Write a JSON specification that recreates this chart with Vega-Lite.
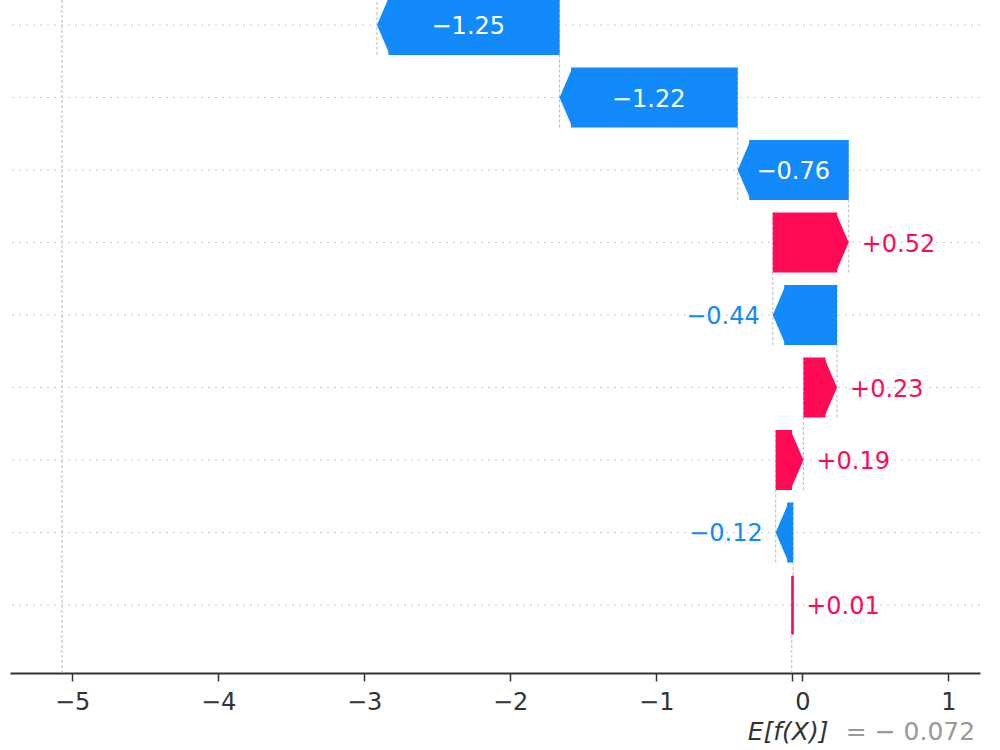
{
  "$schema": "https://vega.github.io/schema/vega-lite/v6.json",
  "width": 970,
  "height": 673,
  "autosize": {"type": "none"},
  "padding": {"left": 10, "top": 0, "right": 20, "bottom": 77},
  "background": "white",
  "config": {
    "view": {"stroke": null},
    "font": "DejaVu Sans",
    "axisX": {
      "title": null, "grid": false,
      "domainColor": "#333333", "domainWidth": 1.8, "tickColor": "#333333", "tickWidth": 1.5, "tickSize": 8,
      "labelFontSize": 24, "labelColor": "#333333", "labelFont": "DejaVu Sans", "labelPadding": 9
    }
  },
  "data": {
    "values": [
      {"rank": 9, "value": -1.25, "start": -1.662, "end": -2.912},
      {"rank": 8, "value": -1.22, "start": -0.442, "end": -1.662},
      {"rank": 7, "value": -0.76, "start": 0.318, "end": -0.442},
      {"rank": 6, "value": 0.52, "start": -0.202, "end": 0.318},
      {"rank": 5, "value": -0.44, "start": 0.238, "end": -0.202},
      {"rank": 4, "value": 0.23, "start": 0.008, "end": 0.238},
      {"rank": 3, "value": 0.19, "start": -0.182, "end": 0.008},
      {"rank": 2, "value": -0.12, "start": -0.062, "end": -0.182},
      {"rank": 1, "value": 0.01, "start": -0.072, "end": -0.062}
    ]
  },
  "layer": [
    {
      "mark": {"type": "rule", "color": "#cccccc", "strokeWidth": 1, "strokeDash": [2, 5]},
      "encoding": {
        "y": {"field": "rank", "type": "quantitative", "scale": {"domain": [0.062, 9.345], "nice": false, "zero": false}, "axis": null}
      }
    },
    {
      "data": {"values": [{}]},
      "mark": {"type": "rule", "color": "#bbbbbb", "strokeWidth": 1, "strokeDash": [3, 2]},
      "encoding": {
        "x": {"datum": -5.069, "type": "quantitative", "scale": {"domain": [-5.425, 1.217], "nice": false, "zero": false},
          "axis": {"values": [-5, -4, -3, -2, -1, 0, 1, -0.072], "labelExpr": "datum.value == -0.072 ? '' : datum.label", "title": null}}
      }
    },
    {
      "data": {"values": [{}]},
      "mark": {"type": "rule", "color": "#bbbbbb", "strokeWidth": 1, "strokeDash": [3, 2]},
      "encoding": {
        "x": {"datum": -0.072, "type": "quantitative", "scale": {"domain": [-5.425, 1.217], "nice": false, "zero": false},
          "axis": {"values": [-5, -4, -3, -2, -1, 0, 1, -0.072], "labelExpr": "datum.value == -0.072 ? '' : datum.label", "title": null}},
        "y": {"datum": 1, "type": "quantitative", "scale": {"domain": [0.062, 9.345], "nice": false, "zero": false}, "axis": null},
        "y2": {"datum": 0.062}
      }
    },
    {
      "mark": {"type": "rule", "color": "#bbbbbb", "strokeWidth": 1, "strokeDash": [3, 2], "yOffset": 30, "y2Offset": -102.5, "clip": true},
      "encoding": {
        "x": {"field": "end", "type": "quantitative", "scale": {"domain": [-5.425, 1.217], "nice": false, "zero": false},
          "axis": {"values": [-5, -4, -3, -2, -1, 0, 1, -0.072], "labelExpr": "datum.value == -0.072 ? '' : datum.label", "title": null}},
        "y": {"field": "rank", "type": "quantitative", "scale": {"domain": [0.062, 9.345], "nice": false, "zero": false}, "axis": null},
        "y2": {"field": "rank"}
      }
    },
    {
      "transform": [{"filter": "datum.value > 0.085"}],
      "mark": {"type": "rect", "color": "#FF0B55", "x2Offset": -11.5, "yOffset": -30, "y2Offset": 30},
      "encoding": {
        "x": {"field": "start", "type": "quantitative", "scale": {"domain": [-5.425, 1.217], "nice": false, "zero": false},
          "axis": {"values": [-5, -4, -3, -2, -1, 0, 1, -0.072], "labelExpr": "datum.value == -0.072 ? '' : datum.label", "title": null}},
        "x2": {"field": "end"},
        "y": {"field": "rank", "type": "quantitative", "scale": {"domain": [0.062, 9.345], "nice": false, "zero": false}, "axis": null},
        "y2": {"field": "rank"}
      }
    },
    {
      "transform": [{"filter": "datum.value < -0.085"}],
      "mark": {"type": "rect", "color": "#128AFA", "x2Offset": 11.5, "yOffset": -30, "y2Offset": 30},
      "encoding": {
        "x": {"field": "start", "type": "quantitative", "scale": {"domain": [-5.425, 1.217], "nice": false, "zero": false},
          "axis": {"values": [-5, -4, -3, -2, -1, 0, 1, -0.072], "labelExpr": "datum.value == -0.072 ? '' : datum.label", "title": null}},
        "x2": {"field": "end"},
        "y": {"field": "rank", "type": "quantitative", "scale": {"domain": [0.062, 9.345], "nice": false, "zero": false}, "axis": null},
        "y2": {"field": "rank"}
      }
    },
    {
      "transform": [{"filter": "datum.value > 0.085"}],
      "mark": {"type": "point", "shape": "M-0.43,-1L0,0L-0.43,1Z", "size": 3600, "filled": true, "opacity": 1, "fillOpacity": 1, "fill": "#FF0B55", "strokeWidth": 0},
      "encoding": {
        "x": {"field": "end", "type": "quantitative", "scale": {"domain": [-5.425, 1.217], "nice": false, "zero": false},
          "axis": {"values": [-5, -4, -3, -2, -1, 0, 1, -0.072], "labelExpr": "datum.value == -0.072 ? '' : datum.label", "title": null}},
        "y": {"field": "rank", "type": "quantitative", "scale": {"domain": [0.062, 9.345], "nice": false, "zero": false}, "axis": null}
      }
    },
    {
      "transform": [{"filter": "datum.value < -0.085"}],
      "mark": {"type": "point", "shape": "M0.43,-1L0,0L0.43,1Z", "size": 3600, "filled": true, "opacity": 1, "fillOpacity": 1, "fill": "#128AFA", "strokeWidth": 0},
      "encoding": {
        "x": {"field": "end", "type": "quantitative", "scale": {"domain": [-5.425, 1.217], "nice": false, "zero": false},
          "axis": {"values": [-5, -4, -3, -2, -1, 0, 1, -0.072], "labelExpr": "datum.value == -0.072 ? '' : datum.label", "title": null}},
        "y": {"field": "rank", "type": "quantitative", "scale": {"domain": [0.062, 9.345], "nice": false, "zero": false}, "axis": null}
      }
    },
    {
      "transform": [{"filter": "abs(datum.value) <= 0.085"}],
      "mark": {"type": "rect", "color": "#FF0B55", "stroke": "#FF0B55", "strokeWidth": 1, "yOffset": -29, "y2Offset": 29},
      "encoding": {
        "x": {"field": "start", "type": "quantitative", "scale": {"domain": [-5.425, 1.217], "nice": false, "zero": false},
          "axis": {"values": [-5, -4, -3, -2, -1, 0, 1, -0.072], "labelExpr": "datum.value == -0.072 ? '' : datum.label", "title": null}},
        "x2": {"field": "end"},
        "y": {"field": "rank", "type": "quantitative", "scale": {"domain": [0.062, 9.345], "nice": false, "zero": false}, "axis": null},
        "y2": {"field": "rank"}
      }
    },
    {
      "transform": [{"filter": "abs(datum.value) > 0.6"}, {"calculate": "(datum.start + datum.end) / 2", "as": "mid"}],
      "mark": {"type": "text", "color": "white", "fontSize": 24, "font": "DejaVu Sans", "align": "center", "baseline": "middle", "dy": 2},
      "encoding": {
        "x": {"field": "mid", "type": "quantitative", "scale": {"domain": [-5.425, 1.217], "nice": false, "zero": false},
          "axis": {"values": [-5, -4, -3, -2, -1, 0, 1, -0.072], "labelExpr": "datum.value == -0.072 ? '' : datum.label", "title": null}},
        "y": {"field": "rank", "type": "quantitative", "scale": {"domain": [0.062, 9.345], "nice": false, "zero": false}, "axis": null},
        "text": {"field": "value", "type": "quantitative", "format": "+.2f"}
      }
    },
    {
      "transform": [{"filter": "datum.value > 0 && abs(datum.value) <= 0.6"}],
      "mark": {"type": "text", "color": "#FF0B55", "fontSize": 24, "font": "DejaVu Sans", "align": "left", "baseline": "middle", "dx": 13, "dy": 2},
      "encoding": {
        "x": {"field": "end", "type": "quantitative", "scale": {"domain": [-5.425, 1.217], "nice": false, "zero": false},
          "axis": {"values": [-5, -4, -3, -2, -1, 0, 1, -0.072], "labelExpr": "datum.value == -0.072 ? '' : datum.label", "title": null}},
        "y": {"field": "rank", "type": "quantitative", "scale": {"domain": [0.062, 9.345], "nice": false, "zero": false}, "axis": null},
        "text": {"field": "value", "type": "quantitative", "format": "+.2f"}
      }
    },
    {
      "transform": [{"filter": "datum.value < 0 && abs(datum.value) <= 0.6"}],
      "mark": {"type": "text", "color": "#128AFA", "fontSize": 24, "font": "DejaVu Sans", "align": "right", "baseline": "middle", "dx": -13, "dy": 2},
      "encoding": {
        "x": {"field": "end", "type": "quantitative", "scale": {"domain": [-5.425, 1.217], "nice": false, "zero": false},
          "axis": {"values": [-5, -4, -3, -2, -1, 0, 1, -0.072], "labelExpr": "datum.value == -0.072 ? '' : datum.label", "title": null}},
        "y": {"field": "rank", "type": "quantitative", "scale": {"domain": [0.062, 9.345], "nice": false, "zero": false}, "axis": null},
        "text": {"field": "value", "type": "quantitative", "format": "+.2f"}
      }
    },
    {
      "data": {"values": [{}]},
      "mark": {"type": "text", "text": "E[f(X)]", "color": "#333333", "fontSize": 25, "font": "DejaVu Sans", "fontStyle": "italic", "align": "left", "baseline": "alphabetic", "dx": -44},
      "encoding": {
        "x": {"datum": -0.072, "type": "quantitative", "scale": {"domain": [-5.425, 1.217], "nice": false, "zero": false},
          "axis": {"values": [-5, -4, -3, -2, -1, 0, 1, -0.072], "labelExpr": "datum.value == -0.072 ? '' : datum.label", "title": null}},
        "y": {"datum": -0.862, "type": "quantitative", "scale": {"domain": [0.062, 9.345], "nice": false, "zero": false}, "axis": null}
      }
    },
    {
      "data": {"values": [{}]},
      "mark": {"type": "text", "text": "= − 0.072", "color": "#999999", "fontSize": 25, "font": "DejaVu Sans", "align": "left", "baseline": "alphabetic", "dx": 54},
      "encoding": {
        "x": {"datum": -0.072, "type": "quantitative", "scale": {"domain": [-5.425, 1.217], "nice": false, "zero": false},
          "axis": {"values": [-5, -4, -3, -2, -1, 0, 1, -0.072], "labelExpr": "datum.value == -0.072 ? '' : datum.label", "title": null}},
        "y": {"datum": -0.862, "type": "quantitative", "scale": {"domain": [0.062, 9.345], "nice": false, "zero": false}, "axis": null}
      }
    }
  ]
}
